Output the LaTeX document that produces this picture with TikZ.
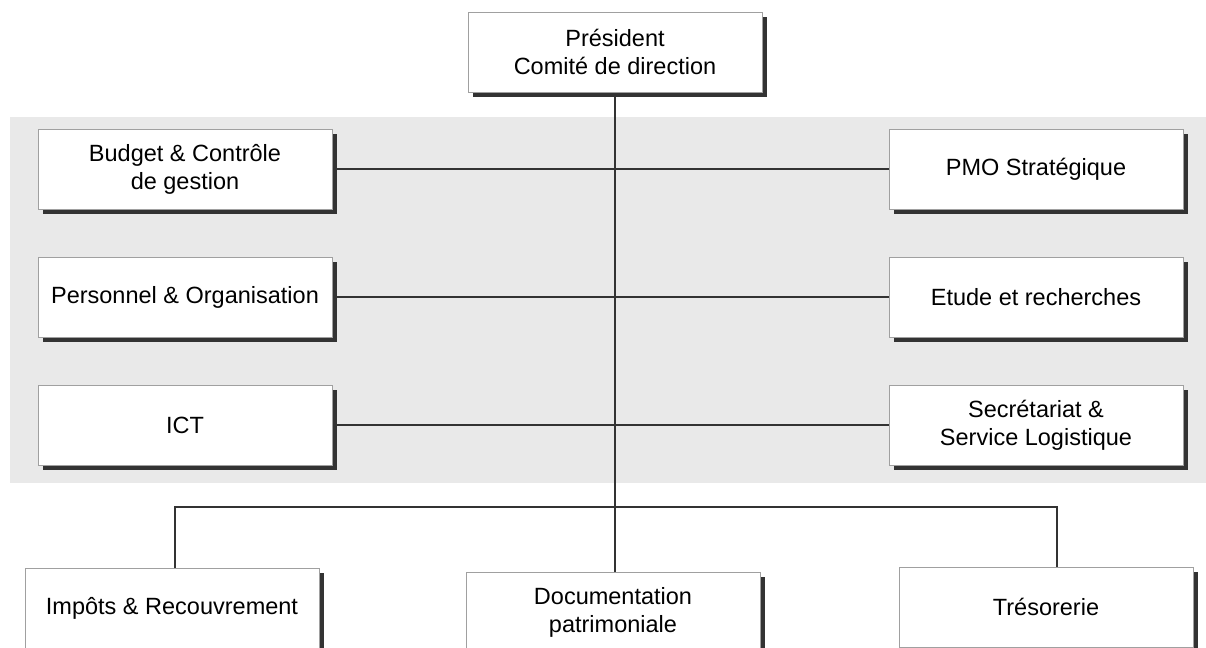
\documentclass[tikz,border=0pt]{standalone}
\usepackage{fontspec}
\setmainfont{Liberation Sans}
\usepackage{tikz}
\usetikzlibrary{shadows,backgrounds,calc}
\definecolor{BandGray}{RGB}{233,233,233}
\definecolor{EdgeGray}{RGB}{160,160,160}
\definecolor{LineGray}{RGB}{51,51,51}

\begin{document}
\begin{tikzpicture}[x=0.5pt,y=-0.5pt,
  box/.style={draw=EdgeGray,line width=0.5pt,fill=white,
              minimum width=147pt,minimum height=40pt,inner sep=0pt,
              align=center,font=\fontsize{11.75}{14}\selectfont,
              drop shadow={shadow xshift=2.5pt,shadow yshift=-2.5pt,
                           fill=LineGray,opacity=1}},
  link/.style={line width=1pt,LineGray},
]
\useasboundingbox (0,0) rectangle (1206,648);
\node[box] (pres) at (615,52) {Président\\Comité de direction};
\node[box] (bud) at (185,169) {Budget \& Contrôle\\de gestion};
\node[box] (pmo) at (1036,169) {PMO Stratégique};
\node[box] (pers) at (185,297) {Personnel \& Organisation};
\node[box] (etu) at (1036,297) {Etude et recherches};
\node[box] (ict) at (185,425) {ICT};
\node[box] (sec) at (1036,425) {Secrétariat \&\\Service Logistique};
\node[box] (imp) at (172,608) {Impôts \& Recouvrement};
\node[box] (doc) at (613,612) {Documentation\\patrimoniale};
\node[box] (tre) at (1046,607) {Trésorerie};
\coordinate (lbar) at (175,507);
\coordinate (rbar) at (1057,507);
\begin{scope}[on background layer]
  \fill[BandGray] (10,117) rectangle (1206,483);
  \draw[link] (pres.south) -- (pres.south |- doc.north);
  \draw[link] (bud.east) -- (pmo.west);
  \draw[link] (pers.east) -- (etu.west);
  \draw[link] (ict.east) -- (sec.west);
  \draw[link] (lbar |- imp.north) -- (lbar) -- (rbar) -- (rbar |- tre.north);
\end{scope}
\end{tikzpicture}
\end{document}
